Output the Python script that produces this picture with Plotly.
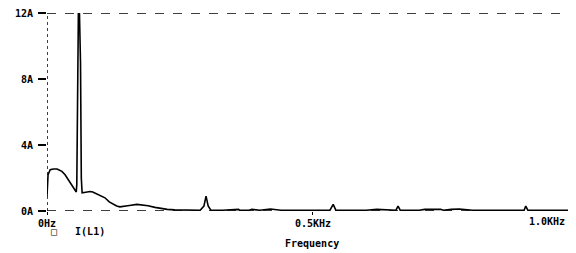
import plotly.graph_objects as go

# Spectrum of I(L1): frequency (Hz) and amplitude (A)
freq_hz = [0, 2, 6, 12, 19, 28, 34, 39, 45, 49, 53, 55, 56, 57.5, 59, 61, 63, 64.5, 66,
           70, 76, 81, 86, 92, 100, 109, 117, 124, 131, 137, 145, 155, 169, 180, 190, 203,
           215, 226, 240, 260, 270, 288, 295, 299, 303, 308, 330, 360, 362, 380, 385, 400,
           420, 440, 470, 520, 532, 538, 543, 560, 600, 620, 650, 656, 660, 664, 700, 710,
           740, 745, 760, 775, 800, 860, 897, 900, 904, 940, 994]
amp_a = [0.9, 2.2, 2.5, 2.55, 2.55, 2.4, 2.2, 1.95, 1.7, 1.45, 1.25, 1.15, 1.6, 9.3, 12.0, 12.0, 9.0,
         2.0, 1.1,
         1.12, 1.15, 1.18, 1.15, 1.05, 0.95, 0.8, 0.55, 0.4, 0.3, 0.25, 0.27, 0.33, 0.4, 0.38, 0.32, 0.22,
         0.15, 0.1, 0.07, 0.05, 0.06, 0.05, 0.3, 0.9, 0.3, 0.05, 0.05, 0.1, 0.05, 0.05, 0.1, 0.05,
         0.12, 0.05, 0.05, 0.05, 0.05, 0.4, 0.05, 0.05, 0.05, 0.1, 0.05, 0.05, 0.3, 0.05, 0.05, 0.1,
         0.1, 0.05, 0.1, 0.12, 0.05, 0.05, 0.05, 0.3, 0.05, 0.05, 0.05]

y_ticks = [0, 4, 8, 12]
y_tick_text = ["0A", "4A", "8A", "12A"]
x_ticks = [0, 500]
x_tick_text = ["0Hz", "0.5KHz"]
x_end_label = "1.0KHz"
trace_name = "I(L1)"
x_title = "Frequency"

FONT = dict(family="DejaVu Sans Mono", size=10, color="black", weight="bold")
X_MAX = 994.5
Y_MAX = 12

fig = go.Figure()
fig.add_trace(go.Scatter(x=freq_hz, y=amp_a, mode="lines", name=trace_name,
                         line=dict(color="black", width=1.6), showlegend=False))

# the page body adds an 8px offset, so the figure is 568x245
fig.update_layout(
    width=568, height=245,
    margin=dict(l=39, r=0, t=5, b=42, autoexpand=False),
    paper_bgcolor="white", plot_bgcolor="white",
    font=FONT,
    xaxis=dict(range=[0, X_MAX], showgrid=False, zeroline=False, showline=False,
               automargin=False, ticklabeloverflow="allow",
               tickmode="array", tickvals=x_ticks, ticktext=x_tick_text,
               ticks="outside", ticklen=3, tickcolor="black", tickfont=FONT),
    yaxis=dict(range=[0, Y_MAX], showgrid=False, zeroline=False, showline=False,
               automargin=False, ticklabeloverflow="allow",
               tickmode="array", tickvals=y_ticks, ticktext=y_tick_text,
               ticks="outside", ticklen=8, tickcolor="black", tickwidth=1.5, tickfont=FONT,
               ticklabelstandoff=3),
)

# Frame: dotted left axis, dashed top and bottom lines
fig.add_shape(type="line", xref="x", yref="y", x0=0, x1=0, y0=0, y1=Y_MAX,
              line=dict(color="black", width=1.5, dash="dot"))
fig.add_shape(type="line", xref="x", yref="y", x0=0, x1=X_MAX, y0=Y_MAX, y1=Y_MAX,
              line=dict(color="black", width=1.5, dash="dash"))
fig.add_shape(type="line", xref="x", yref="y", x0=0, x1=X_MAX, y0=0, y1=0,
              line=dict(color="black", width=1.5, dash="dash"))

# Right-end frequency label (1.0KHz sits at the window edge)
fig.add_annotation(x=1, xref="paper", y=0, yref="paper", yshift=-3, xshift=-9,
                   text=x_end_label, showarrow=False, xanchor="right", yanchor="top", font=FONT)
# Legend text
fig.add_annotation(x=0.0, xref="paper", y=0, yref="paper", xshift=2, yshift=-13,
                   text="\u25a1   " + trace_name, showarrow=False, xanchor="left", yanchor="top",
                   font=FONT)
# Axis title
fig.add_annotation(x=0.5, xref="paper", y=0, yref="paper", yshift=-25,
                   text=x_title, showarrow=False, xanchor="center", yanchor="top",
                   font=dict(family="DejaVu Sans Mono", size=10, color="black", weight="bold"))

fig.write_html("out.html")
